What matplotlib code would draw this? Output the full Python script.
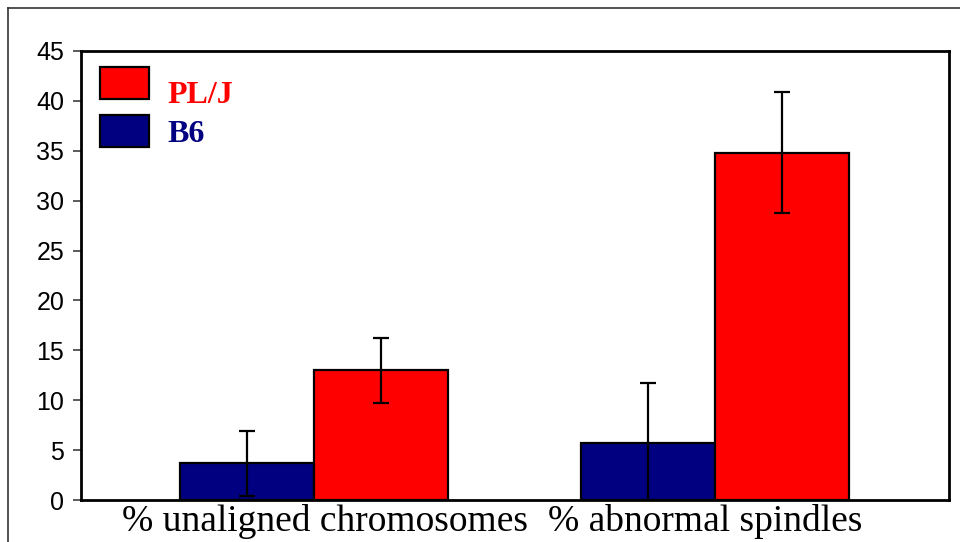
import matplotlib
matplotlib.use("Agg")
import matplotlib.pyplot as plt
import numpy as np
from matplotlib.patches import Rectangle
from matplotlib.lines import Line2D
from matplotlib.transforms import ScaledTranslation

categories = ["% unaligned chromosomes", "% abnormal spindles"]
series_names = ["B6", "PL/J"]
b6_values = [3.7, 5.7]
b6_errors = [3.25, 6.0]
plj_values = [13.0, 34.8]
plj_errors = [3.25, 6.05]
yticks = [0, 5, 10, 15, 20, 25, 30, 35, 40, 45]

c_red = "#FF0000"
c_blue = "#000080"

fig = plt.figure(figsize=(9.6, 5.42), dpi=100)
ax = fig.add_axes([81/960, 42/542, 868/960, 449/542])

x = np.arange(len(categories))
w = 0.334
ekw = dict(ecolor="black", elinewidth=1.6, capsize=5.8, capthick=1.6, zorder=4)
ax.bar(x - w/2, b6_values, w, color=c_blue, edgecolor="black", linewidth=1.6, zorder=2)
ax.bar(x + w/2, plj_values, w, color=c_red, edgecolor="black", linewidth=1.6, zorder=2)
ax.errorbar(x - w/2, b6_values, yerr=b6_errors, fmt="none", **ekw)
ax.errorbar(x + w/2, plj_values, yerr=plj_errors, fmt="none", **ekw)

ax.set_xlim(-0.58, 1.583)
ax.set_ylim(0, 45)
ax.set_yticks(yticks)
ax.set_yticklabels([str(t) for t in yticks], fontfamily="Liberation Sans", fontsize=18)
ax.tick_params(axis="y", length=6, width=1.2, pad=6, color="#404040")
ax.set_xticks(x)
ax.set_xticklabels(categories, fontfamily="Liberation Serif", fontsize=27)
ax.tick_params(axis="x", length=0, pad=3)
offsets_px = [11, -10]
for lbl, off in zip(ax.get_xticklabels(), offsets_px):
    lbl.set_transform(lbl.get_transform() + ScaledTranslation(off / 100, 0, fig.dpi_scale_trans))
for s in ax.spines.values():
    s.set_linewidth(2.0)

# legend (manual, matching reference layout)
ax.add_patch(Rectangle((0.0219, 0.893), 0.0565, 0.0713, transform=ax.transAxes,
                       facecolor=c_red, edgecolor="black", linewidth=1.6, clip_on=False))
ax.add_patch(Rectangle((0.0219, 0.786), 0.0565, 0.0713, transform=ax.transAxes,
                       facecolor=c_blue, edgecolor="black", linewidth=1.6, clip_on=False))
ax.text(0.100, 0.900, series_names[1], transform=ax.transAxes, color=c_red,
        fontfamily="Liberation Serif", fontweight="bold", fontsize=23, va="center", ha="left")
ax.text(0.100, 0.813, series_names[0], transform=ax.transAxes, color=c_blue,
        fontfamily="Liberation Serif", fontweight="bold", fontsize=23, va="center", ha="left")

# outer frame (top and left lines)
fig.add_artist(Line2D([8/960, 1.0], [1 - 8/542, 1 - 8/542], transform=fig.transFigure,
                      color="#333333", linewidth=1.2))
fig.add_artist(Line2D([8/960, 8/960], [0.0, 1 - 8/542], transform=fig.transFigure,
                      color="#333333", linewidth=1.2))

fig.savefig("out.png", dpi=100)
